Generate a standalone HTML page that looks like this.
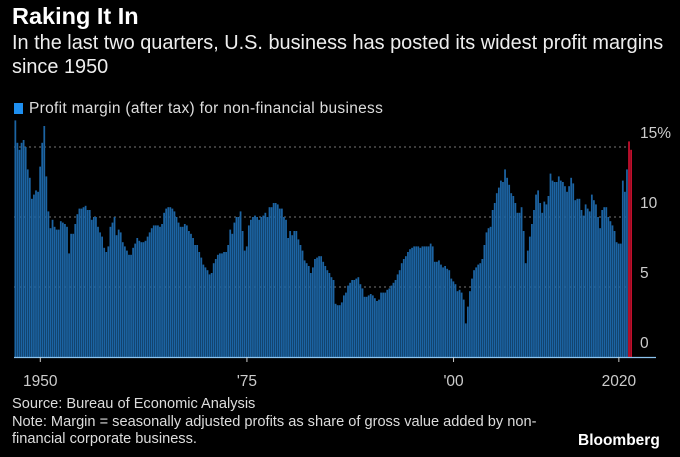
<!DOCTYPE html>
<html><head><meta charset="utf-8"><style>
body{margin:0;background:#000;width:680px;height:457px;overflow:hidden;font-family:"Liberation Sans",sans-serif;color:#fff}
.t{position:absolute;white-space:nowrap}
</style></head><body>
<div class="t" style="left:12px;top:3px;font-size:23.5px;font-weight:bold">Raking It In</div>
<div class="t" style="left:12px;top:31px;font-size:19.9px;line-height:24px;color:#eee">In the last two quarters, U.S. business has posted its widest profit margins<br>since 1950</div>
<div class="t" style="left:14px;top:100px;font-size:15.5px;color:#ddd;letter-spacing:0.3px"><span style="display:inline-block;width:9px;height:11px;background:#1e8ff0;margin-right:6px;vertical-align:-1px"></span>Profit margin (after tax) for non-financial business</div>
<svg id="c" width="680" height="457" style="position:absolute;left:0;top:0"></svg>
<div class="t" style="left:12px;top:396px;font-size:14.6px;line-height:17.5px;color:#ddd">Source: Bureau of Economic Analysis<br>Note: Margin = seasonally adjusted profits as share of gross value added by non-<br>financial corporate business.</div>
<div class="t" style="left:578px;top:432px;font-size:15.5px;font-weight:bold">Bloomberg</div>
<script>
const startYear = 1947;
const values = [
16.9,15.3,14.8,15.3, 15.5,15.0,13.4,12.8, 11.3,11.6,11.9,11.8, 13.6,15.3,16.5,12.9,
10.4,9.2,9.8,9.3, 9.1,9.1,9.7,9.6, 9.5,9.3,7.4,8.8, 8.8,9.5,10.2,10.6,
10.6,10.7,10.8,10.5, 10.5,9.8,10.0,10.0, 9.3,8.9,8.6,7.8, 7.5,7.9,9.3,9.6,
10.0,8.7,9.1,8.9, 8.2,7.9,7.6,7.3, 7.3,7.8,8.1,8.5, 8.3,8.2,8.2,8.3,
8.6,8.9,9.2,9.4, 9.4,9.4,9.3,9.5, 10.3,10.6,10.7,10.7, 10.6,10.4,10.0,9.6,
9.3,9.3,9.5,9.4, 9.0,8.8,8.5,8.0, 8.0,7.5,7.1,6.6, 6.4,6.2,5.9,6.0,
6.7,7.0,7.3,7.4, 7.4,7.5,7.5,8.0, 9.1,8.8,9.6,10.0, 10.0,10.4,9.0,7.6,
7.9,9.4,9.8,10.0, 10.1,10.0,9.8,10.0, 10.1,10.3,10.0,10.7, 10.7,11.0,11.0,10.9,
10.6,10.6,10.0,9.8, 8.5,9.0,8.7,9.0, 9.0,8.4,8.0,7.6, 6.9,6.7,6.5,6.0,
6.4,7.0,7.1,7.2, 7.2,6.8,6.5,6.2, 6.0,5.7,5.5,3.8, 3.7,3.7,3.9,4.4,
4.6,5.1,5.3,5.5, 5.5,5.6,5.7,5.2, 4.9,4.3,4.3,4.4, 4.5,4.4,4.2,4.0,
4.1,4.6,4.6,4.6, 4.8,4.9,5.1,5.3, 5.5,5.9,6.2,6.7, 7.0,7.2,7.5,7.7,
7.8,7.9,7.9,7.9, 7.8,7.9,7.9,7.9, 7.9,8.1,7.9,6.8, 6.8,6.9,6.6,6.4,
6.5,6.3,6.2,5.6, 5.4,5.2,4.7,4.8, 4.6,4.1,2.4,3.6, 4.7,5.6,6.2,6.4,
6.6,6.7,7.0,8.0, 8.9,9.2,9.3,10.5, 11.0,11.7,12.1,12.6, 12.5,13.4,12.8,12.3,
11.7,11.5,11.0,10.3, 10.3,10.7,9.0,6.7, 7.6,8.6,9.5,10.5, 11.6,11.9,11.0,10.3,
11.1,10.9,11.5,13.1, 12.6,12.5,12.5,12.9, 12.6,12.5,12.2,11.8, 12.2,12.8,12.4,11.2,
11.3,11.3,10.5,10.1, 10.9,10.6,10.4,11.6, 11.2,10.9,10.0,9.2, 10.5,10.7,10.7,10.0,
9.7,9.4,9.0,8.2, 8.1,8.1,12.6,11.8, 13.4,15.4,14.8];
const highlightCount = 2;
const yTicks = [0,5,10,15];
const yTickLabels = ["0","5","10","15%"];
const xTickYears = [1950,1975,2000,2020];
const xTickLabels = ["1950","'75","'00","2020"];

const svg = document.getElementById('c');
const NS = 'http://www.w3.org/2000/svg';
const x0 = 15.5, pxYear = 8.265, y0 = 357, pxUnit = 14;
const xs = yr => x0 + (yr - startYear) * pxYear;
const ys = v => y0 - v * pxUnit;
function mk(tag, a){const e=document.createElementNS(NS,tag);for(const k in a)e.setAttribute(k,a[k]);svg.appendChild(e);return e;}

yTicks.forEach((t,i)=>{
  if(t>0){
    const g=mk('line',{x1:14,x2:627,y1:ys(t),y2:ys(t),stroke:'#777','stroke-width':1,'stroke-dasharray':'2,3'});
    
    
  }
  const l=mk('text',{x:640,y:ys(t)-9,fill:'#ccc','font-size':15.5,'font-family':'Liberation Sans, sans-serif'});
  l.textContent=yTickLabels[i];
  
  
});
const w = pxYear/4;
values.forEach((v,i)=>{
  const red = i >= values.length - highlightCount;
  const xc = xs(startYear + i/4);
  const r=mk('rect',{x:xc - w/2, y:ys(v), width:w*0.85, height:v*pxUnit, fill: red?'#c8102e':'#1c64a3'});
  
  
});
const b=mk('line',{x1:14,x2:656,y1:y0+0.5,y2:y0+0.5,stroke:'#8cc4ee','stroke-width':1.2});


xTickYears.forEach((yr,i)=>{
  const x=xs(yr);
  const t=mk('line',{x1:x,x2:x,y1:y0,y2:y0+5,stroke:'#ccc'});
  
  
  const l=mk('text',{x:x,y:y0+29,fill:'#ccc','font-size':15.5,'text-anchor':'middle','font-family':'Liberation Sans, sans-serif'});
  l.textContent=xTickLabels[i];
  
  
});
</script>
</body></html>
